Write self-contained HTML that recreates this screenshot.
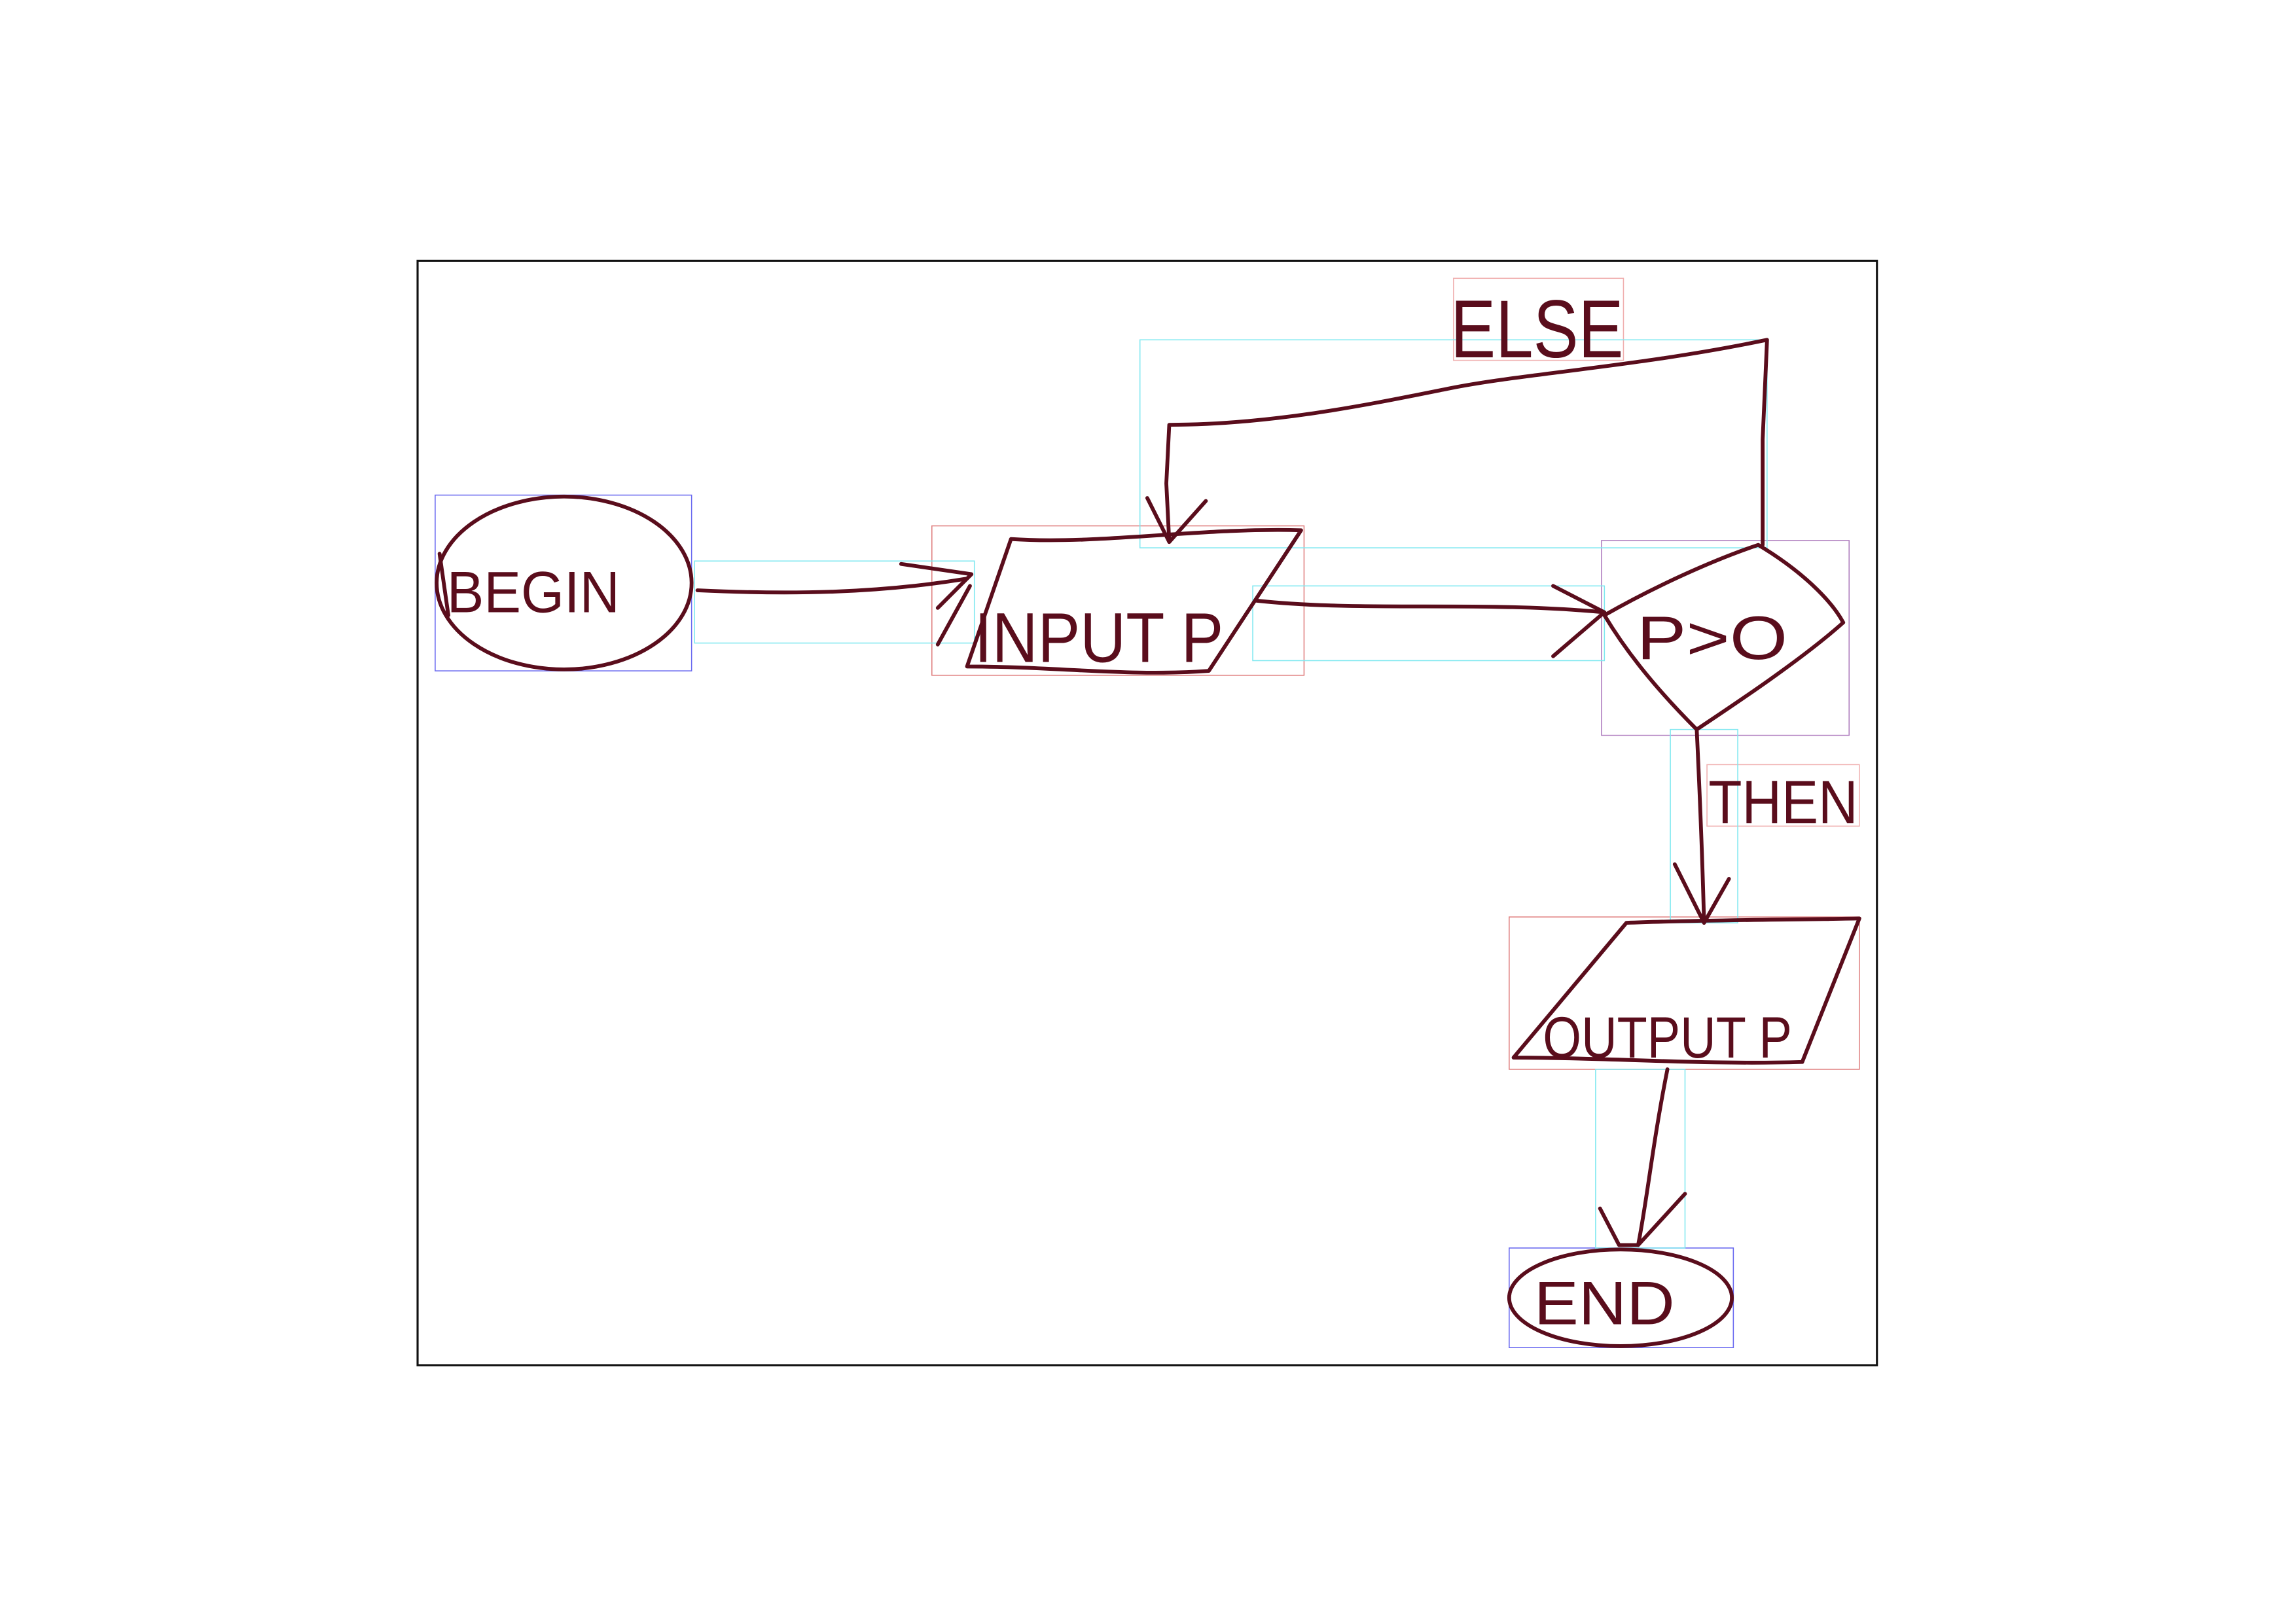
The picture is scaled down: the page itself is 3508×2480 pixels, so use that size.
<!DOCTYPE html>
<html><head><meta charset="utf-8"><style>
html,body{margin:0;padding:0;background:#fff;}
svg{display:block;}
text{font-family:"Liberation Sans",sans-serif;fill:#5a0d1c;font-weight:normal;}
</style></head><body>
<svg width="3508" height="2480" viewBox="0 0 1567 1108" preserveAspectRatio="none" xmlns="http://www.w3.org/2000/svg">
<rect x="0" y="0" width="1567" height="1108" fill="#fff"/>
<rect x="285" y="178" width="996" height="754" fill="none" stroke="#111" stroke-width="1.4"/>
<g fill="none" stroke-width="0.7">
<rect x="297" y="338" width="175" height="120" stroke="#6a6af0"/>
<rect x="1030" y="852" width="153" height="68" stroke="#6a6af0"/>
<rect x="636" y="359" width="254" height="102" stroke="#e08080"/>
<rect x="1030" y="626" width="239" height="104" stroke="#e08080"/>
<rect x="1093" y="369" width="169" height="133" stroke="#b080c0"/>
<rect x="992" y="190" width="116" height="56" stroke="#f0b0b0"/>
<rect x="1165" y="522" width="104" height="42" stroke="#f0b0b0"/>
<rect x="474" y="383" width="191" height="56" stroke="#80e8f0"/>
<rect x="855" y="400" width="240" height="51" stroke="#80e8f0"/>
<rect x="778" y="232" width="428" height="142" stroke="#80e8f0"/>
<rect x="1140" y="498" width="46" height="132" stroke="#80e8f0"/>
<rect x="1089" y="730" width="61" height="122" stroke="#80e8f0"/>
</g>
<g fill="none" stroke="#5a0d1c" stroke-width="2.6" stroke-linecap="round" stroke-linejoin="round">
<ellipse cx="385" cy="398" rx="87" ry="59"/>
<path d="M300 378 L306 420"/>
<path d="M476 403 C540 406 600 405 660 395"/>
<path d="M615 385 L663 392 L640 415"/>
<path d="M690 368 C750 372 820 360 888 362 L825 458 C770 462 720 455 660 455 L690 368"/>
<path d="M662 400 L640 440"/>
<path d="M857 410 C930 418 1010 410 1095 418"/>
<path d="M1060 400 L1095 418 L1060 448"/>
<path d="M1200 372 C1230 390 1250 410 1258 425 C1230 450 1185 480 1158 498 C1130 470 1110 445 1095 420 C1130 400 1170 382 1200 372"/>
<path d="M1203 372 L1203 300 L1206 232 C1120 250 1040 255 990 265 C940 275 870 290 798 290 L796 330 L798 370"/>
<path d="M783 340 L798 370 L823 342"/>
<path d="M1158 498 C1160 540 1162 590 1163 630"/>
<path d="M1143 590 L1163 630 L1180 600"/>
<path d="M1110 630 C1160 628 1220 628 1269 627 L1230 725 C1160 727 1100 722 1033 722 L1110 630"/>
<path d="M1138 730 C1128 780 1124 820 1118 850"/>
<path d="M1092 825 L1105 850 L1118 850 L1150 815"/>
<ellipse cx="1106" cy="886" rx="76" ry="33"/>
</g>
<text x="305" y="418" font-size="40" textLength="118" lengthAdjust="spacingAndGlyphs">BEGIN</text>
<text x="665" y="452" font-size="48" textLength="170" lengthAdjust="spacingAndGlyphs">INPUT P</text>
<text x="1117" y="450" font-size="42" textLength="103" lengthAdjust="spacingAndGlyphs">P&gt;O</text>
<text x="990" y="244" font-size="56" textLength="118" lengthAdjust="spacingAndGlyphs">ELSE</text>
<text x="1166" y="562" font-size="42" textLength="102" lengthAdjust="spacingAndGlyphs">THEN</text>
<text x="1053" y="722" font-size="40" textLength="170" lengthAdjust="spacingAndGlyphs">OUTPUT P</text>
<text x="1047" y="904" font-size="42" textLength="96" lengthAdjust="spacingAndGlyphs">END</text>
</svg>
</body></html>
